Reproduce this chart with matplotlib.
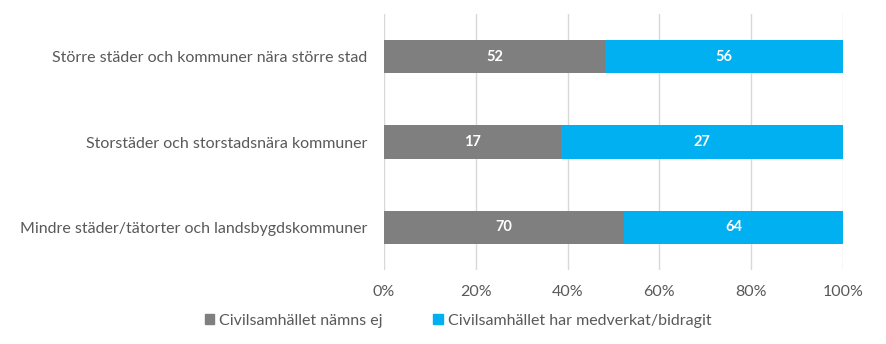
import numpy as np
import matplotlib.pyplot as plt
from matplotlib.patches import Patch
from matplotlib.ticker import PercentFormatter

plt.rcParams['font.family'] = ['Lato', 'DejaVu Sans']

categories = [
    "Större städer och kommuner nära större stad",
    "Storstäder och storstadsnära kommuner",
    "Mindre städer/tätorter och landsbygdskommuner",
]
namns_ej = [52, 17, 70]
medverkat = [56, 27, 64]
series_names = ["Civilsamhället nämns ej", "Civilsamhället har medverkat/bidragit"]

GREY = '#7F7F7F'
BLUE = '#00B0F0'
TEXT = '#595959'

a = np.array(namns_ej, dtype=float)
b = np.array(medverkat, dtype=float)
tot = a + b
pa, pb = a / tot, b / tot
y = np.arange(len(categories))

fig = plt.figure(figsize=(8.87, 3.44), dpi=100)
ax = fig.add_axes([384 / 887, 1 - 270 / 344, (843 - 384) / 887, (270 - 14) / 344])

h = 0.39
ax.barh(y, pa, height=h, color=GREY, zorder=3)
ax.barh(y, pb, left=pa, height=h, color=BLUE, zorder=3)

for i in range(len(y)):
    ax.text(pa[i] / 2, y[i], f"{namns_ej[i]}", ha='center', va='center',
            color='white', fontsize=10.5, fontweight='bold', zorder=4)
    ax.text(pa[i] + pb[i] / 2, y[i], f"{medverkat[i]}", ha='center', va='center',
            color='white', fontsize=10.5, fontweight='bold', zorder=4)

ax.set_xlim(0, 1)
ax.set_ylim(len(categories) - 0.5, -0.5)
ax.set_xticks(np.linspace(0, 1, 6))
ax.xaxis.set_major_formatter(PercentFormatter(1.0, decimals=0))
ax.set_yticks(y)
ax.set_yticklabels(categories)
ax.tick_params(axis='both', length=0, labelsize=11.5, colors=TEXT)
ax.tick_params(axis='x', pad=11)
ax.tick_params(axis='y', pad=12)
ax.grid(axis='x', color='#D9D9D9', lw=1, zorder=0)
for sp in ax.spines.values():
    sp.set_visible(False)

handles = [Patch(color=GREY), Patch(color=BLUE)]
fig.legend(handles, series_names, loc='center', bbox_to_anchor=(458 / 887, 1 - 321 / 344),
           ncol=2, frameon=False, fontsize=11.5, handlelength=0.6, handleheight=0.6,
           handletextpad=0.3, columnspacing=3.2, labelcolor=TEXT)

fig.savefig('out.png', dpi=100, facecolor='white')
